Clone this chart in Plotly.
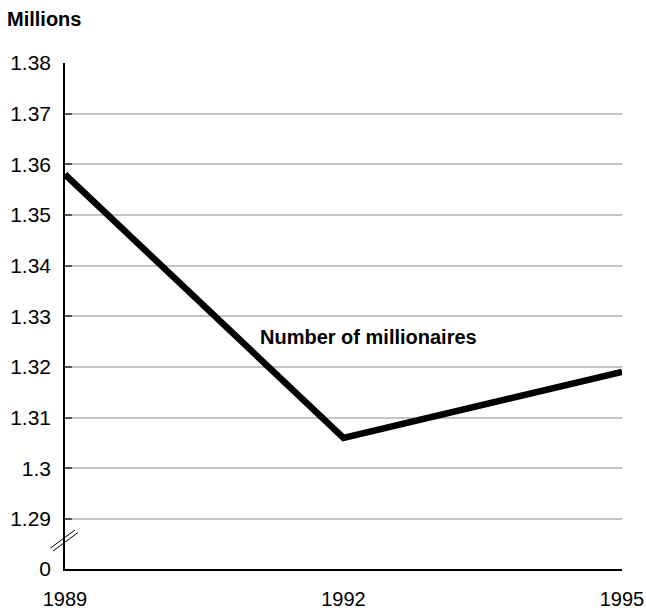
import plotly.graph_objects as go

years = [1989, 1992, 1995]
millionaires = [1.358, 1.306, 1.319]
series_name = "Number of millionaires"
tick_vals = [1.2801, 1.29, 1.30, 1.31, 1.32, 1.33, 1.34, 1.35, 1.36, 1.37, 1.38]
tick_text = ["0", "1.29", "1.3", "1.31", "1.32", "1.33", "1.34", "1.35", "1.36", "1.37", "1.38"]
x_ticks = [1989, 1992, 1995]

fig = go.Figure()
fig.add_trace(go.Scatter(x=years, y=millionaires, mode="lines",
                         line=dict(color="black", width=6.5), hoverinfo="skip",
                         showlegend=False))

font = "Liberation Sans, Arial, sans-serif"
fs = 21
fig.update_layout(
    width=646, height=614,
    margin=dict(l=65, r=24, t=63, b=45, autoexpand=False),
    paper_bgcolor="white", plot_bgcolor="white",
    font=dict(family=font, size=fs, color="black"),
    xaxis=dict(range=[1989, 1995], tickvals=x_ticks, ticktext=[str(v) for v in x_ticks],
               showgrid=False, zeroline=False, showline=True, linecolor="black",
               linewidth=1.5, ticks="", ticklabelstandoff=11, automargin=False,
               tickfont=dict(size=20, family=font)),
    yaxis=dict(range=[1.2801, 1.38], tickvals=tick_vals, ticktext=tick_text,
               showgrid=True, gridcolor="#c4c4c4", gridwidth=1.5, zeroline=False,
               showline=True, linecolor="black", linewidth=1.5, automargin=False,
               ticks="inside", ticklen=7, tickcolor="#555555", tickwidth=1.5,
               ticklabelstandoff=8, tickfont=dict(size=fs, family=font)),
    annotations=[
        dict(text="<b>Millions</b>", xref="paper", yref="paper", x=(5 - 65) / 557,
             y=(569 - 19) / 506, xanchor="left", yanchor="middle", showarrow=False,
             font=dict(size=fs - 1, family=font)),
        dict(text="<b>" + series_name + "</b>", xref="paper", yref="paper",
             x=(258 - 65) / 557, y=(569 - 337) / 506, xanchor="left", yanchor="middle",
             showarrow=False, font=dict(size=fs - 1, family=font)),
    ],
    shapes=[
        dict(type="line", xref="paper", yref="paper",
             x0=(50.5 - 65) / 557, y0=(569 - 548) / 506,
             x1=(75 - 65) / 557, y1=(569 - 530) / 506,
             line=dict(color="black", width=1)),
        dict(type="line", xref="paper", yref="paper",
             x0=(53 - 65) / 557, y0=(569 - 551) / 506,
             x1=(78 - 65) / 557, y1=(569 - 532.5) / 506,
             line=dict(color="black", width=1)),
    ],
)

fig.write_html("out.html", config={"displayModeBar": False},
               post_script="document.body.style.margin='0';document.body.style.overflow='hidden';")
